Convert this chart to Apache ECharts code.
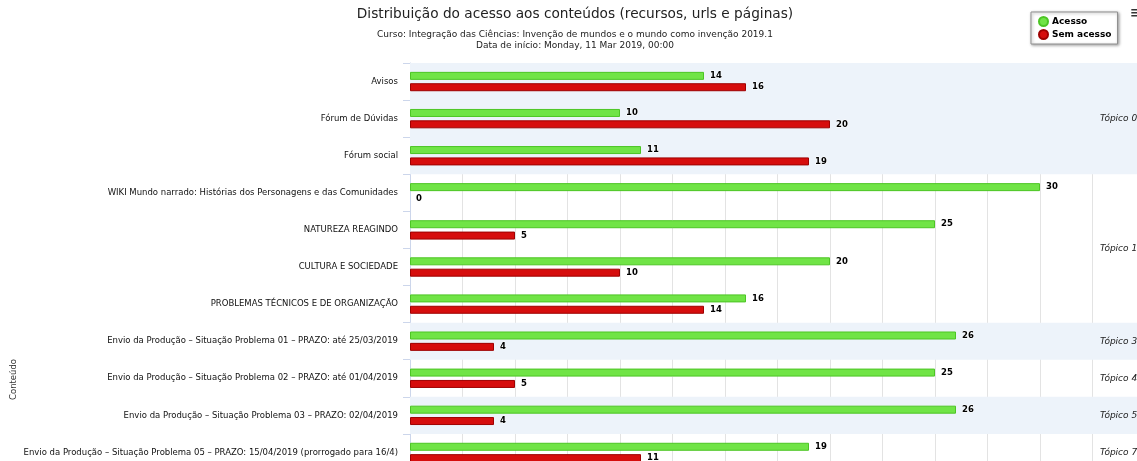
<!DOCTYPE html>
<html>
<head>
<meta charset="utf-8">
<script src="https://cdn.jsdelivr.net/npm/echarts@6/dist/echarts.min.js"></script>
<style>html,body{margin:0;padding:0;background:#fff;overflow:hidden;width:1137px;height:461px;}#c{width:1150px;height:520px;}</style>
</head>
<body>
<div id="c"></div>
<script>
const categories = [
  'Avisos',
  'Fórum de Dúvidas',
  'Fórum social',
  'WIKI Mundo narrado: Histórias dos Personagens e das Comunidades',
  'NATUREZA REAGINDO',
  'CULTURA E SOCIEDADE',
  'PROBLEMAS TÉCNICOS E DE ORGANIZAÇÃO',
  'Envio da Produção – Situação Problema 01 – PRAZO: até 25/03/2019',
  'Envio da Produção – Situação Problema 02 – PRAZO: até 01/04/2019',
  'Envio da Produção – Situação Problema 03 – PRAZO: 02/04/2019',
  'Envio da Produção – Situação Problema 05 – PRAZO: 15/04/2019 (prorrogado para 16/4)'
];
const acesso = [14, 10, 11, 30, 25, 20, 16, 26, 25, 26, 19];
const semAcesso = [16, 20, 19, 0, 5, 10, 14, 4, 5, 4, 11];
const topicLabels = ['Tópico 0', 'Tópico 1', 'Tópico 3', 'Tópico 4', 'Tópico 5', 'Tópico 7'];
const topicFirst = [0, 3, 7, 8, 9, 10];
const topicLast = [2, 6, 7, 8, 9, 10];

const FONT = 'DejaVu Sans';
const bandAreas = topicLabels.map((name, i) => [
  { name: name, yAxis: topicFirst[i],
    itemStyle: { color: i % 2 === 0 ? '#edf3fa' : 'rgba(255,255,255,0)' } },
  { yAxis: topicLast[i] + 1 }
]);
const noBorderForZero = arr => arr.map(v => v === 0 ? { value: v, itemStyle: { borderWidth: 0 } } : v);

const valueLabel = { show: true, position: 'right', distance: 6, fontFamily: FONT, fontWeight: 'bold',
  fontSize: 8.5, color: '#000', textBorderColor: '#fff', textBorderWidth: 1 };

const chart = echarts.init(document.getElementById('c'), null, { renderer: 'canvas' });
chart.setOption({
  animation: false,
  backgroundColor: '#fff',
  textStyle: { fontFamily: FONT },
  grid: { left: 410, top: 63, width: 735, height: 408, containLabel: false },
  legend: {
    orient: 'vertical', left: 1031, top: 12,
    backgroundColor: '#fff', borderColor: '#909090', borderWidth: 1,
    shadowBlur: 3, shadowColor: 'rgba(0,0,0,0.35)', shadowOffsetX: 1, shadowOffsetY: 1,
    padding: [4, 6, 4, 7], itemGap: 2, icon: 'circle', itemWidth: 9, itemHeight: 9,
    textStyle: { fontFamily: FONT, fontWeight: 'bold', fontSize: 9, color: '#000', padding: [0, 0, 0, -1] },
    data: ['Acesso', 'Sem acesso']
  },
  xAxis: {
    type: 'value', min: 0, max: 35, interval: 2.5,
    axisLine: { show: false }, axisTick: { show: false }, axisLabel: { show: false },
    splitLine: { show: true, lineStyle: { color: '#e3e3e3', width: 1 } }
  },
  yAxis: [{
    type: 'category', inverse: true, data: categories,
    axisLine: { show: true, lineStyle: { color: '#ccd6eb' } },
    axisTick: { show: true, length: 7, lineStyle: { color: '#ccd6eb' } },
    axisLabel: { margin: 12, fontFamily: FONT, fontSize: 8.5, color: '#111' },
    splitLine: { show: false }
  }, {
    type: 'value', inverse: true, min: 0, max: 11, show: false
  }],
  graphic: [
    { type: 'text', left: 'center', top: 7,
      style: { text: 'Distribuição do acesso aos conteúdos (recursos, urls e páginas)',
        font: '13.7px "DejaVu Sans"', fill: '#222' } },
    { type: 'text', left: 'center', top: 30,
      style: { text: 'Curso: Integração das Ciências: Invenção de mundos e o mundo como invenção 2019.1',
        font: '9px "DejaVu Sans"', fill: '#222' } },
    { type: 'text', left: 'center', top: 41,
      style: { text: 'Data de início: Monday, 11 Mar 2019, 00:00',
        font: '9px "DejaVu Sans"', fill: '#222' } },
    { type: 'text', x: 9, y: 400, rotation: Math.PI / 2,
      style: { text: 'Conteúdo', font: '8.5px "DejaVu Sans"', fill: '#333' } },
    { type: 'text', x: 1130, y: 6,
      style: { text: '≡', font: 'bold 14px "DejaVu Sans"', fill: '#333' } }
  ],
  series: [
    {
      type: 'line', data: [], xAxisIndex: 0, yAxisIndex: 1, z: -1, silent: true,
      markArea: {
        silent: true,
        label: { show: true, position: [690, '50%'], align: 'left', verticalAlign: 'middle',
          fontFamily: FONT, fontStyle: 'italic', fontSize: 9, color: '#222' },
        data: bandAreas
      }
    },
    {
      name: 'Acesso', type: 'bar', data: noBorderForZero(acesso), barWidth: 8, barGap: '42%', z: 3,
      itemStyle: { color: '#70e446', borderColor: '#4cc524', borderWidth: 1 },
      label: valueLabel
    },
    {
      name: 'Sem acesso', type: 'bar', data: noBorderForZero(semAcesso), barWidth: 8, z: 3,
      itemStyle: { color: '#d60d0d', borderColor: '#9e0000', borderWidth: 1 },
      label: valueLabel
    }
  ],
  color: ['#66dd33', '#b30000']
});
</script>
</body>
</html>
